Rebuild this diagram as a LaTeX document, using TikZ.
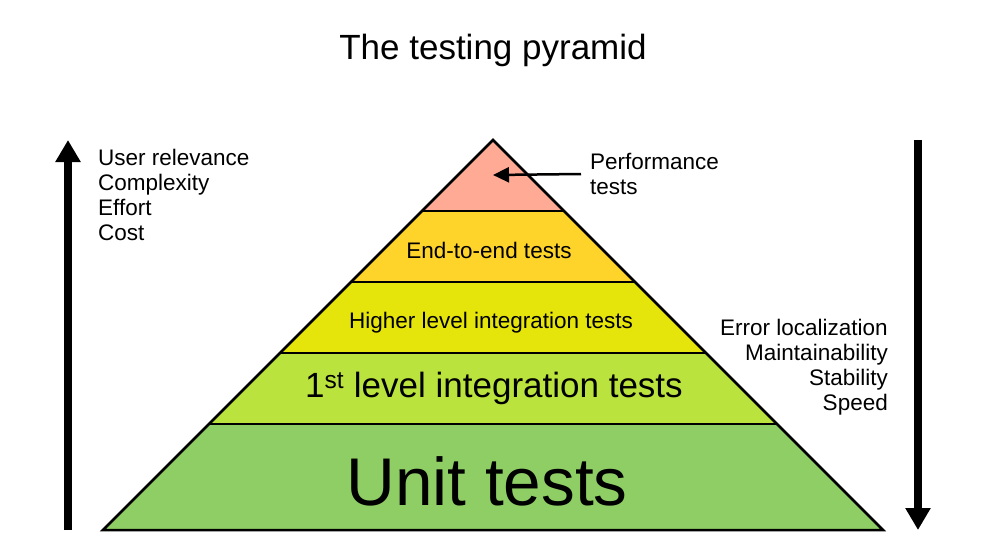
\documentclass[tikz,border=0pt]{standalone}
\usepackage{fontspec}
\setmainfont{Liberation Sans}
\usetikzlibrary{arrows.meta}
\definecolor{perfcol}{HTML}{FFAA95}
\definecolor{etecol}{HTML}{FFD42A}
\definecolor{highcol}{HTML}{E5E50B}
\definecolor{firstcol}{HTML}{BBE33D}
\definecolor{unitcol}{HTML}{8FCE65}
\tikzset{
  lbl/.style={inner sep=0pt, font=\fontsize{22.5}{25}\selectfont},
  axis/.style={line width=8pt, -{Triangle[width=24pt,length=22pt]}},
  edge/.style={draw=black, line width=2.5pt}
}
\begin{document}
\begin{tikzpicture}[x=1pt,y=-1pt]
			    \useasboundingbox (0,0) rectangle (989,554);
			    \node [inner sep=0pt, font=\fontsize{35}{40}\selectfont] (title) at (493,50) {The testing pyramid};
			    \fill [unitcol] (103,530) -- (209,424) -- (777,424) -- (883,530) -- cycle;
			    \fill [firstcol] (209,424) -- (280,353) -- (706,353) -- (777,424) -- cycle;
			    \fill [highcol] (280,353) -- (351,282) -- (635,282) -- (706,353) -- cycle;
			    \fill [etecol] (351,282) -- (422,211) -- (564,211) -- (635,282) -- cycle;
			    \fill [perfcol] (422,211) -- (493,140) -- (564,211) -- cycle;
			    \draw [edge, line join=miter] (103,530) -- (493,140) -- (883,530) -- cycle;
			    \draw [edge] (209,424) -- (777,424);
			    \draw [edge] (280,353) -- (706,353);
			    \draw [edge] (351,282) -- (635,282);
			    \draw [edge] (422,211) -- (564,211);
			    \node [lbl] (ete) at (489,250) {End-to-end tests};
			    \node [lbl] (high) at (491,323) {Higher level integration tests};
			    \node [inner sep=0pt, font=\fontsize{35}{40}\selectfont] (first) at (494,388) {1\textsuperscript{st} level integration tests};
			    \node [inner sep=0pt, font=\fontsize{67.5}{72}\selectfont] (unit) at (487,481) {Unit tests};
			    \node [lbl, anchor=west, align=left] (perf) at (590,174) {Performance\\tests};
			    \coordinate (perftip) at (493,175);
			    \draw [line width=2.5pt, -{Triangle[width=15pt,length=16pt]}] ([xshift=-9pt]perf.west) -- (perftip);
			    \coordinate (upbot) at (68,530);
			    \coordinate (uptop) at (68,140);
			    \draw [axis] (upbot) -- (uptop);
			    \node [lbl, anchor=north west, align=left] (costs) at (98,149) {User relevance\\Complexity\\Effort\\Cost};
			    \coordinate (downtop) at (918,140);
			    \coordinate (downbot) at (918,530);
			    \draw [axis] (downtop) -- (downbot);
			    \node [lbl, anchor=north east, align=right] (gains) at (888,319) {Error localization\\Maintainability\\Stability\\Speed};
\end{tikzpicture}
\end{document}
